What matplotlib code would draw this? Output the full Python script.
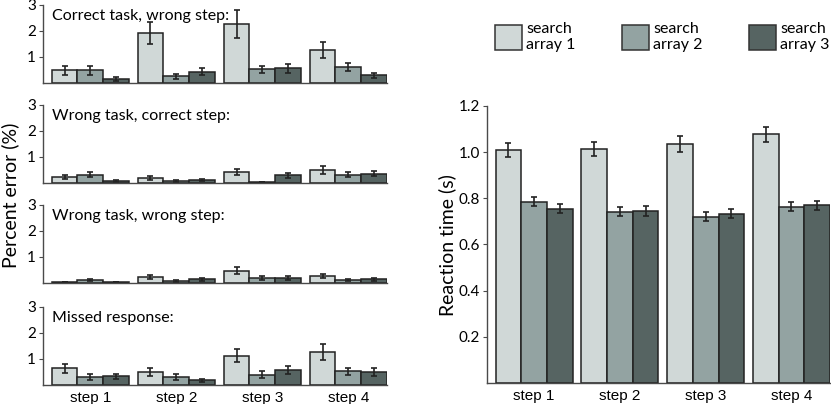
import numpy as np
import matplotlib.pyplot as plt
from matplotlib.patches import Patch

plt.rcParams['font.family'] = ['Lato', 'DejaVu Sans']

# ---------------------------- data ----------------------------
steps = ['step 1', 'step 2', 'step 3', 'step 4']
series = ['search\narray 1', 'search\narray 2', 'search\narray 3']
colors = ['#d0d8d7', '#93a3a2', '#566462']

err_titles = ['Correct task, wrong step:', 'Wrong task, correct step:',
              'Wrong task, wrong step:', 'Missed response:']

# percent error, [panel][array][step]
err_mean = [
    [[0.49, 1.92, 2.27, 1.27], [0.49, 0.26, 0.52, 0.62], [0.17, 0.43, 0.56, 0.30]],
    [[0.24, 0.20, 0.41, 0.50], [0.32, 0.07, 0.04, 0.32], [0.08, 0.10, 0.30, 0.36]],
    [[0.04, 0.22, 0.48, 0.27], [0.10, 0.07, 0.20, 0.10], [0.04, 0.14, 0.19, 0.14]],
    [[0.65, 0.50, 1.13, 1.28], [0.31, 0.31, 0.40, 0.52], [0.34, 0.18, 0.59, 0.49]],
]
err_sem = [
    [[0.17, 0.43, 0.52, 0.29], [0.17, 0.09, 0.15, 0.15], [0.08, 0.14, 0.17, 0.10]],
    [[0.08, 0.08, 0.12, 0.14], [0.10, 0.03, 0.01, 0.10], [0.03, 0.04, 0.10, 0.11]],
    [[0.01, 0.08, 0.15, 0.07], [0.04, 0.03, 0.08, 0.04], [0.01, 0.06, 0.08, 0.06]],
    [[0.17, 0.17, 0.24, 0.30], [0.10, 0.10, 0.12, 0.15], [0.10, 0.07, 0.16, 0.15]],
]

# reaction time (s), [array][step]
rt_mean = [[1.010, 1.015, 1.035, 1.077],
           [0.785, 0.742, 0.720, 0.763],
           [0.755, 0.745, 0.733, 0.770]]
rt_sem = [[0.030, 0.030, 0.033, 0.033],
          [0.020, 0.020, 0.020, 0.020],
          [0.020, 0.020, 0.020, 0.020]]

# ---------------------------- plotting ----------------------------
W, H = 831, 404
fig = plt.figure(figsize=(W / 100, H / 100), dpi=100)

x = np.arange(1, 5)
bw = 0.3
spine_c = '#4a4a4a'

def style(ax):
    for s in ['top', 'right']:
        ax.spines[s].set_visible(False)
    for s in ['left', 'bottom']:
        ax.spines[s].set_color(spine_c)
        ax.spines[s].set_linewidth(1.0)
    ax.tick_params(axis='y', direction='out', length=3, color=spine_c, labelsize=11, pad=2)
    ax.tick_params(axis='x', length=0, labelsize=11, pad=4)
    ax.set_xlim(0.45, 4.45)

def bars(ax, mean, sem):
    for k in range(3):
        ax.bar(x + (k - 1) * bw, mean[k], bw, yerr=sem[k], color=colors[k],
               edgecolor='#222222', linewidth=1.1, capsize=2.5,
               error_kw=dict(ecolor='#222222', elinewidth=1.2, capthick=1.2))

# left: percent error panels
tops = [5, 105, 205, 307]
for i in range(4):
    ax = fig.add_axes([43 / W, 1 - (tops[i] + 78) / H, 344 / W, 78 / H])
    bars(ax, err_mean[i], err_sem[i])
    style(ax)
    ax.set_ylim(0, 3)
    ax.set_yticks([1, 2, 3])
    ax.set_xticks(x)
    if i == 3:
        ax.set_xticklabels(steps, family='Liberation Sans')
    else:
        ax.set_xticklabels([])
    ax.text(0.025, 0.86, err_titles[i], transform=ax.transAxes, fontsize=11.5,
            ha='left', va='center')

fig.text(10 / W, 1 - 195 / H, 'Percent error (%)', rotation=90, fontsize=14,
         ha='center', va='center')

# right: reaction time
ax2 = fig.add_axes([487 / W, 1 - 383 / H, 343 / W, 277 / H])
bars(ax2, rt_mean, rt_sem)
style(ax2)
ax2.set_ylim(0, 1.2)
ax2.set_yticks([0.2, 0.4, 0.6, 0.8, 1.0, 1.2])
ax2.set_yticklabels(['0.2', '0.4', '0.6', '0.8', '1.0', '1.2'])
ax2.set_xticks(x)
ax2.set_xticklabels(steps, family='Liberation Sans')
fig.text(447 / W, 1 - 245 / H, 'Reaction time (s)', rotation=90, fontsize=14,
         ha='center', va='center')

handles = [Patch(facecolor=c, edgecolor='#333333', linewidth=1.1) for c in colors]
fig.legend(handles, series, loc='upper left', bbox_to_anchor=(495 / W, 1 - 22 / H),
           ncol=3, frameon=False, fontsize=11.5, handlelength=1.7, handleheight=2.0,
           handletextpad=0.25, columnspacing=2.9, borderaxespad=0, borderpad=0,
           labelspacing=0)

plt.savefig('out.png', dpi=100)
plt.close()
